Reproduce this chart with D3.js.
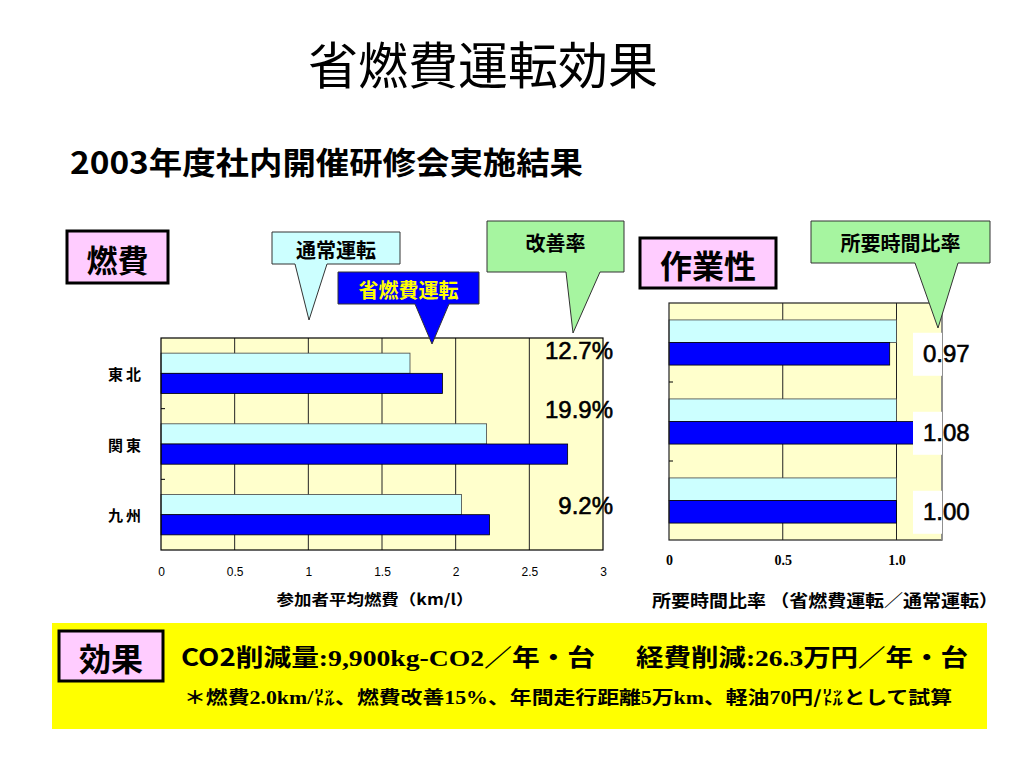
<!DOCTYPE html>
<html>
<head>
<meta charset="utf-8">
<script src="https://cdn.jsdelivr.net/npm/d3@7"></script>
<style>
  body { margin: 0; background: #fff; }
  svg { display: block; }
</style>
</head>
<body>
<div id="chart"></div>
<script>
// data
const regions = ["東北", "関東", "九州"];
const series = ["通常運転", "省燃費運転"];
const fuelNormal = [1.69, 2.21, 2.04];
const fuelEco = [1.91, 2.76, 2.23];
const fuelRate = ["12.7%", "19.9%", "9.2%"];
const fuelTicks = [0, 0.5, 1, 1.5, 2, 2.5, 3];
const timeNormal = [1.0, 1.0, 1.0];
const timeEco = [0.97, 1.08, 1.00];
const timeRate = ["0.97", "1.08", "1.00"];
const timeTicks = [0, 0.5, 1.0];

const JP = "'Noto Sans CJK JP', sans-serif";
const SANS = "'Liberation Sans', Arial, sans-serif";
const SERIF = "'Liberation Serif', 'Times New Roman', serif";

var svg = d3.select("#chart")
    .append("svg")
    .attr("width", 1024)
    .attr("height", 768);

// title
svg.append("text")
    .attr("x", 483).attr("y", 84)
    .attr("text-anchor", "middle")
    .attr("font-family", JP)
    .attr("font-size", 50)
    .text("省燃費運転効果");

svg.append("text")
    .attr("x", 70).attr("y", 174)
    .attr("font-family", JP)
    .attr("font-weight", "bold")
    .attr("font-size", 31)
    .attr("textLength", 513)
    .attr("lengthAdjust", "spacingAndGlyphs")
    .text("2003年度社内開催研修会実施結果");

function labelBox(x, y, w, h, txt, size) {
    svg.append("rect")
        .attr("x", x).attr("y", y).attr("width", w).attr("height", h)
        .attr("fill", "#FFCCFF").attr("stroke", "#000").attr("stroke-width", 3);
    svg.append("text")
        .attr("x", x + w / 2).attr("y", y + h / 2 + 1)
        .attr("text-anchor", "middle").attr("dominant-baseline", "central")
        .attr("font-family", JP).attr("font-weight", "bold")
        .attr("font-size", size)
        .text(txt);
}

function callout(x0, y0, x1, y1, bl, br, tx, ty, fill, txt, color, textY) {
    var p = "M" + x0 + "," + y0 + "H" + x1 + "V" + y1 + "H" + br +
        "L" + tx + "," + ty + "L" + bl + "," + y1 + "H" + x0 + "Z";
    svg.append("path")
        .attr("d", p)
        .attr("fill", fill).attr("stroke", "#333").attr("stroke-width", 1);
    svg.append("text")
        .attr("x", (x0 + x1) / 2).attr("y", textY)
        .attr("text-anchor", "middle").attr("dominant-baseline", "central")
        .attr("font-family", JP).attr("font-weight", "bold")
        .attr("font-size", 20)
        .attr("fill", color)
        .text(txt);
}

function barChart(o) {
    var x = d3.scaleLinear().domain(o.domain).range(o.xr);
    var y0 = d3.scaleBand().domain(regions).range(o.yr);
    var y1 = d3.scaleBand().domain(series).range([0, y0.bandwidth()])
        .paddingInner(0).paddingOuter(0.75);
    var g = svg.append("g");

    g.append("rect")
        .attr("x", o.xr[0]).attr("y", o.yr[0])
        .attr("width", o.xr[1] - o.xr[0]).attr("height", o.yr[1] - o.yr[0])
        .attr("fill", "#FFFFCC");

    // vertical grid
    g.selectAll(".grid")
        .data(o.ticks.filter(function (d) { return d > 0 && x(d) < o.xr[1] - 1; }))
        .enter().append("line")
        .attr("x1", function (d) { return x(d); })
        .attr("x2", function (d) { return x(d); })
        .attr("y1", o.yr[0]).attr("y2", o.yr[1])
        .attr("stroke", "#222").attr("stroke-width", 1);

    var rows = g.selectAll(".row")
        .data(regions)
        .enter().append("g")
        .attr("transform", function (d) { return "translate(0," + y0(d) + ")"; });

    rows.append("rect")
        .attr("x", x(0))
        .attr("y", y1(series[0]))
        .attr("width", function (d, i) { return x(o.normal[i]) - x(0); })
        .attr("height", y1.bandwidth())
        .attr("fill", "#CCFFFF").attr("stroke", "#444").attr("stroke-width", 0.8);

    rows.append("rect")
        .attr("x", x(0))
        .attr("y", y1(series[1]))
        .attr("width", function (d, i) { return x(o.eco[i]) - x(0); })
        .attr("height", y1.bandwidth())
        .attr("fill", "#0000FF").attr("stroke", "#000").attr("stroke-width", 0.8);

    // frame
    g.append("rect")
        .attr("x", o.xr[0]).attr("y", o.yr[0])
        .attr("width", o.xr[1] - o.xr[0]).attr("height", o.yr[1] - o.yr[0])
        .attr("fill", "none").attr("stroke", o.frame).attr("stroke-width", 1.2);
    if (o.rightEdge) {
        g.append("line")
            .attr("x1", o.xr[1]).attr("x2", o.xr[1])
            .attr("y1", o.yr[0]).attr("y2", o.yr[1])
            .attr("stroke", o.rightEdge).attr("stroke-width", 1.5);
    }

    // category ticks between bands
    g.selectAll(".ctick")
        .data(regions.slice(1))
        .enter().append("line")
        .attr("x1", o.xr[0]).attr("x2", o.xr[0] + 4)
        .attr("y1", function (d) { return y0(d); })
        .attr("y2", function (d) { return y0(d); })
        .attr("stroke", "#000");

    // x axis labels
    var ax = g.append("g")
        .attr("transform", "translate(0," + o.tickY + ")")
        .call(d3.axisBottom(x).tickValues(o.ticks).tickSize(0).tickFormat(o.fmt));
    ax.select(".domain").remove();
    ax.selectAll("text")
        .attr("dy", "0.32em").attr("y", 0)
        .attr("font-family", o.tickFont)
        .attr("font-weight", o.tickWeight)
        .attr("font-size", o.tickSize)
        .attr("fill", "#000");

    return { x: x, y0: y0, y1: y1 };
}

// 燃費 chart
var fuel = barChart({
    domain: [0, 3], xr: [161, 603], yr: [338, 550],
    normal: fuelNormal, eco: fuelEco, ticks: fuelTicks,
    fmt: d3.format(""), tickY: 572, tickFont: SANS, tickWeight: "normal", tickSize: 12,
    frame: "#000"
});

svg.selectAll(".region")
    .data(regions)
    .enter().append("text")
    .attr("x", 126)
    .attr("y", function (d) { return fuel.y0(d) + fuel.y0.bandwidth() / 2; })
    .attr("text-anchor", "middle").attr("dominant-baseline", "central")
    .attr("font-family", JP).attr("font-weight", "bold")
    .attr("font-size", 15).attr("letter-spacing", 3)
    .text(function (d) { return d; });

var rateDy = [12, 1, 26];
svg.selectAll(".rate")
    .data(fuelRate)
    .enter().append("text")
    .attr("x", 613)
    .attr("y", function (d, i) { return fuel.y0(regions[i]) + rateDy[i]; })
    .attr("text-anchor", "end").attr("dominant-baseline", "central")
    .attr("font-family", SANS).attr("font-size", 24)
    .attr("stroke", "#000").attr("stroke-width", 0.6)
    .text(function (d) { return d; });

svg.append("text")
    .attr("x", 375).attr("y", 598)
    .attr("text-anchor", "middle").attr("dominant-baseline", "central")
    .attr("font-family", JP).attr("font-weight", "bold").attr("font-size", 15)
    .attr("textLength", 197).attr("lengthAdjust", "spacingAndGlyphs")
    .text("参加者平均燃費（km/l）");

// 作業性 chart
var time = barChart({
    domain: [0, 1.2], xr: [669, 942], yr: [303, 540],
    normal: timeNormal, eco: timeEco, ticks: timeTicks,
    fmt: function (d) { return d === 0 ? "0" : d.toFixed(1); },
    tickY: 561, tickFont: SERIF, tickWeight: "bold", tickSize: 14,
    frame: "#222", rightEdge: "#999"
});

var timeLab = svg.selectAll(".tlab")
    .data(timeRate)
    .enter().append("g")
    .attr("transform", function (d, i) {
        return "translate(913," + (time.y0(regions[i]) + time.y1(series[1]) + time.y1.bandwidth() / 2) + ")";
    });
timeLab.append("rect")
    .attr("x", 0).attr("y", -21).attr("width", 29).attr("height", 43)
    .attr("fill", "#fff");
timeLab.append("text")
    .attr("x", 10).attr("y", 0)
    .attr("dominant-baseline", "central")
    .attr("font-family", SANS).attr("font-size", 24)
    .attr("stroke", "#000").attr("stroke-width", 0.6)
    .text(function (d) { return d; });

svg.append("text")
    .attr("x", 652).attr("y", 599)
    .attr("dominant-baseline", "central")
    .attr("font-family", JP).attr("font-weight", "bold").attr("font-size", 17)
    .attr("textLength", 346).attr("lengthAdjust", "spacingAndGlyphs")
    .text("所要時間比率 （省燃費運転／通常運転）");

// boxes and callouts
labelBox(67, 231, 101, 52, "燃費", 31);
labelBox(640, 238, 136, 50, "作業性", 32);

callout(272, 232, 400, 264, 295, 327, 309, 320, "#CCFFFF", "通常運転", "#000", 249);
callout(338, 272, 479, 304, 415, 449, 432, 344, "#0000FF", "省燃費運転", "#FFFF00", 289);
callout(487, 221, 624, 272, 566, 600, 573, 333, "#A6F5A0", "改善率", "#000", 242);
callout(811, 221, 990, 263, 915, 958, 938, 328, "#A6F5A0", "所要時間比率", "#000", 242);

// 効果 panel
svg.append("rect")
    .attr("x", 52).attr("y", 623).attr("width", 935).attr("height", 106)
    .attr("fill", "#FFFF00");
labelBox(59, 631, 104, 50, "効果", 32);

var line1 = svg.append("text")
    .attr("x", 181).attr("y", 666)
    .attr("font-family", JP).attr("font-weight", "bold").attr("font-size", 24)
    .attr("textLength", 414).attr("lengthAdjust", "spacingAndGlyphs");
line1.append("tspan").text("CO2削減量");
line1.append("tspan").attr("font-family", SERIF).text(":9,900kg-CO2");
line1.append("tspan").text("／年・台");

var line2 = svg.append("text")
    .attr("x", 636).attr("y", 666)
    .attr("font-family", JP).attr("font-weight", "bold").attr("font-size", 24)
    .attr("textLength", 332).attr("lengthAdjust", "spacingAndGlyphs");
line2.append("tspan").text("経費削減");
line2.append("tspan").attr("font-family", SERIF).text(":26.3");
line2.append("tspan").text("万円／年・台");

var note = svg.append("text")
    .attr("x", 184).attr("y", 704)
    .attr("font-family", JP).attr("font-weight", "bold").attr("font-size", 18)
    .attr("textLength", 768).attr("lengthAdjust", "spacingAndGlyphs");
[["＊燃費", JP], ["2.0km/", SERIF], ["㍑、燃費改善", JP], ["15%", SERIF],
 ["、年間走行距離", JP], ["5", SERIF], ["万", JP], ["km", SERIF], ["、軽油", JP],
 ["70", SERIF], ["円/", JP], ["㍑として試算", JP]].forEach(function (p) {
    note.append("tspan").attr("font-family", p[1]).text(p[0]);
});
</script>
</body>
</html>
